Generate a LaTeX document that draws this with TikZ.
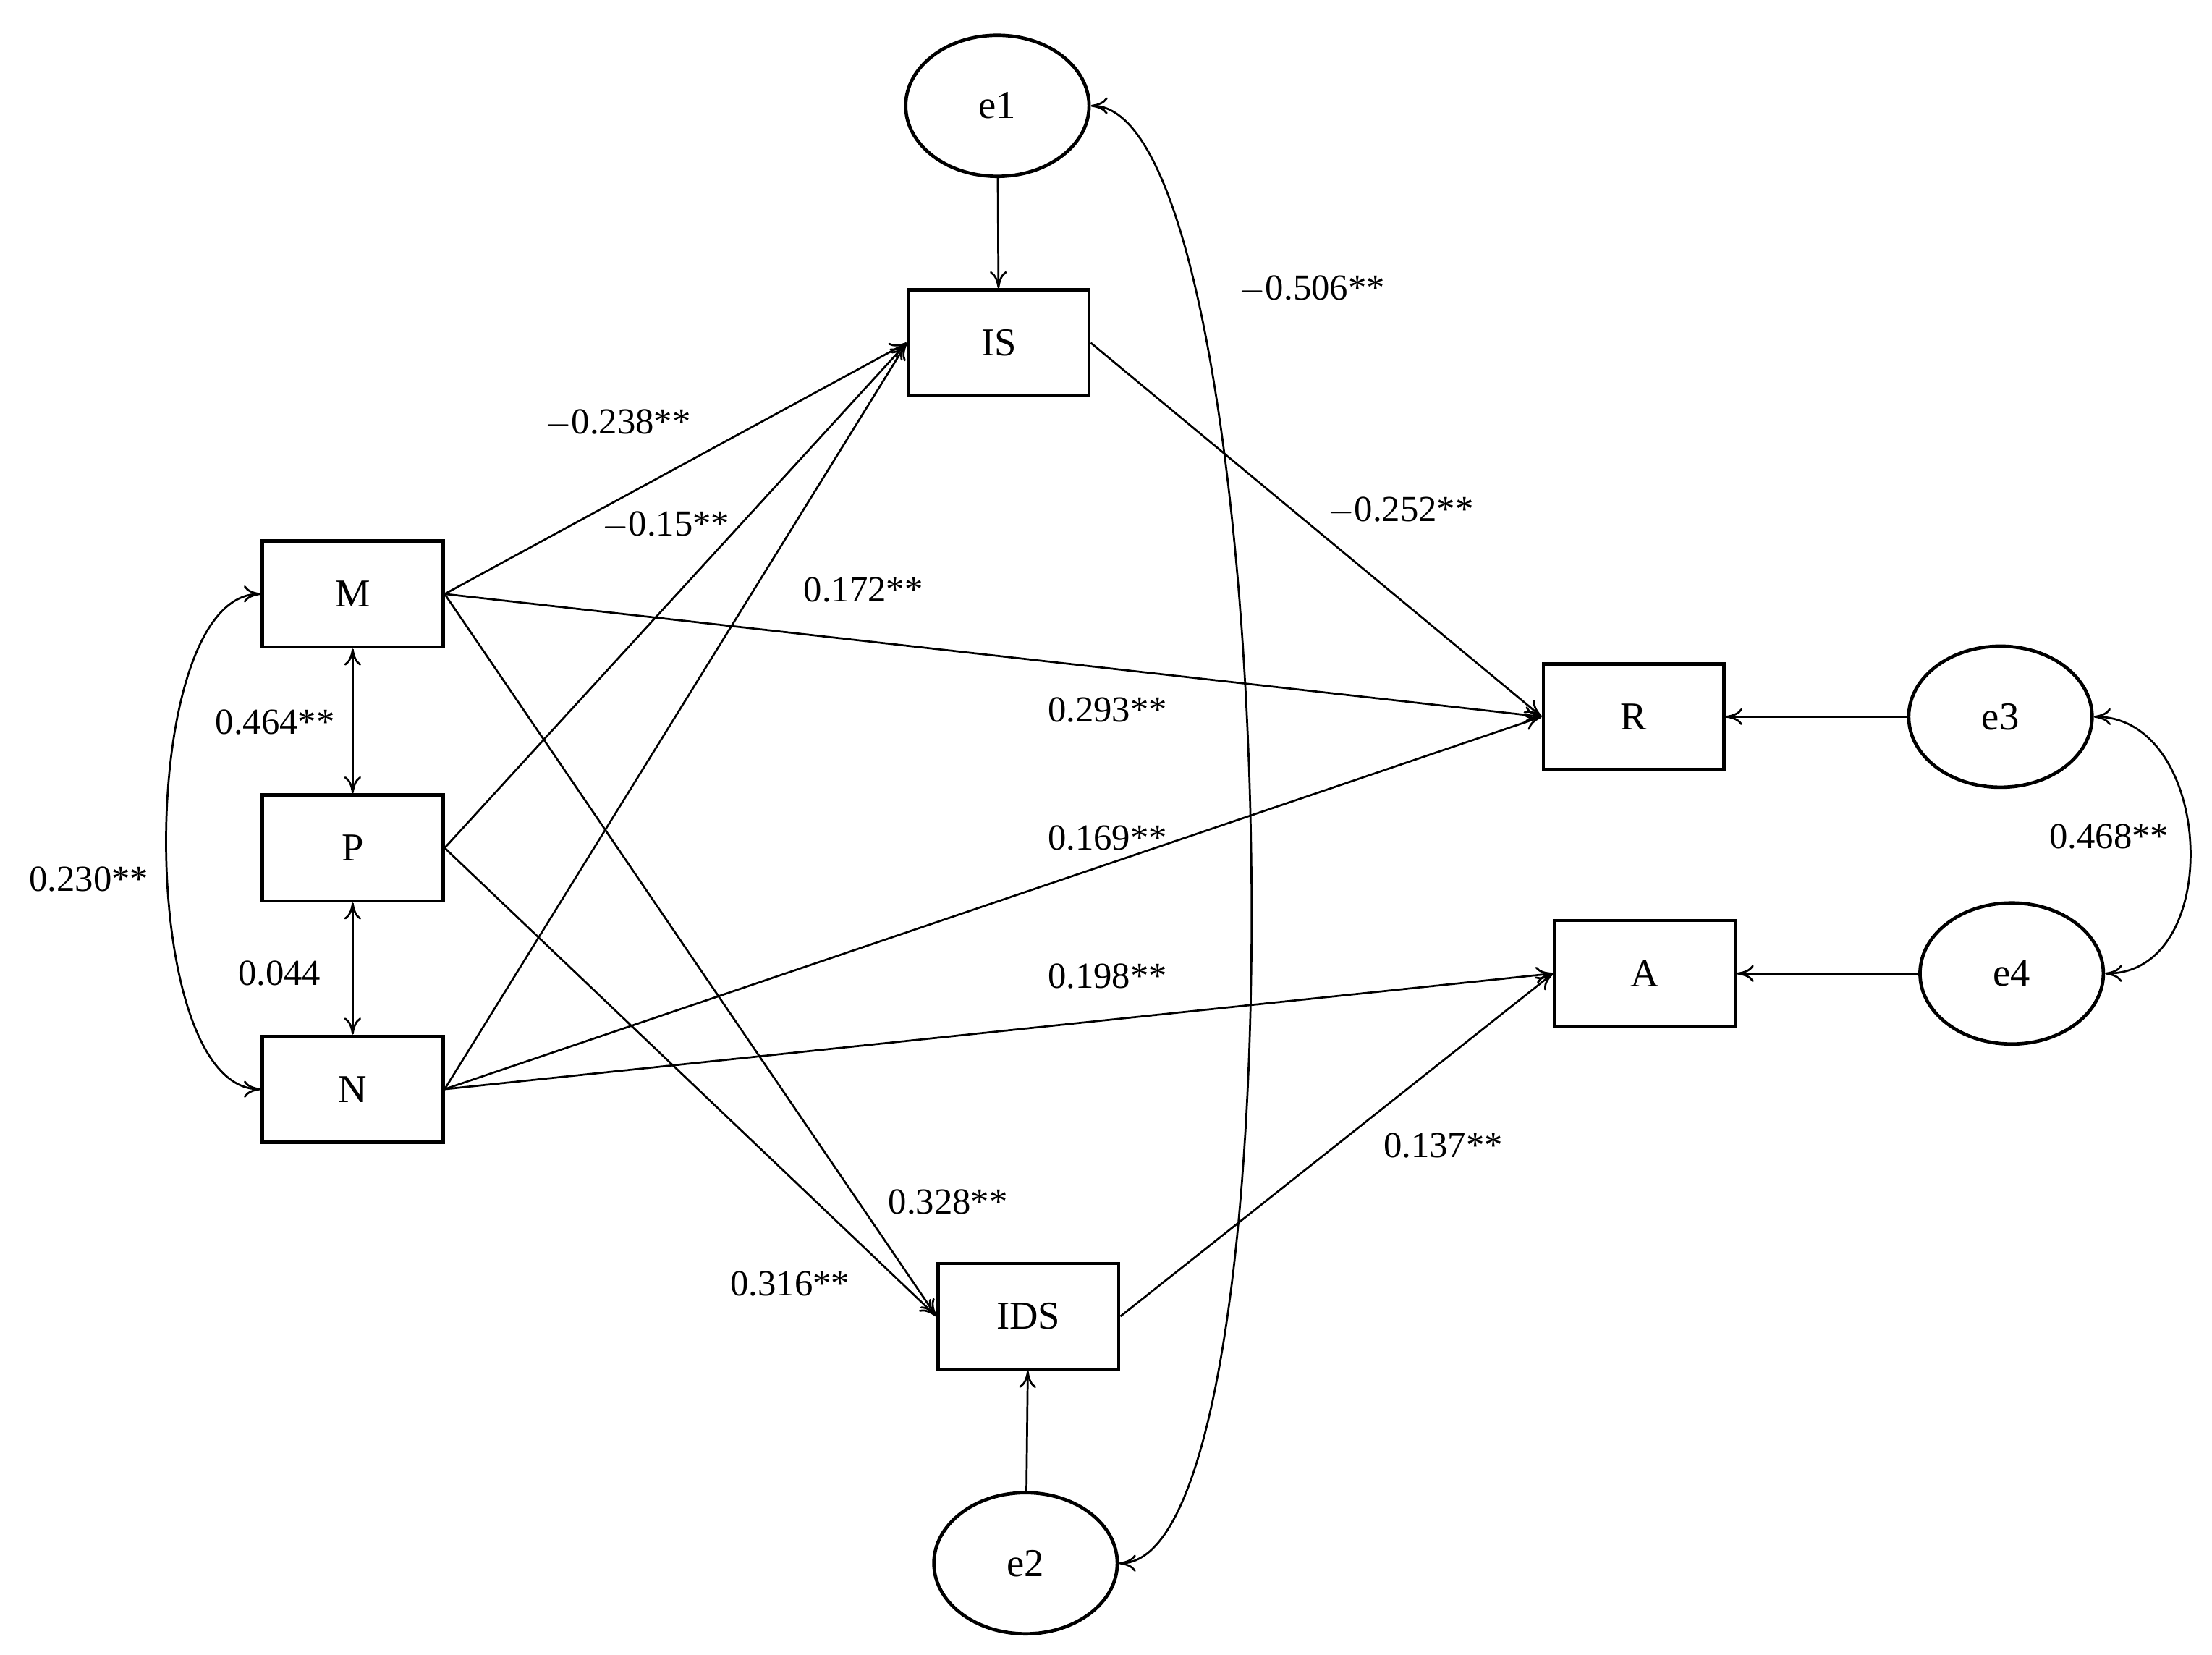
\documentclass[tikz,border=0pt]{standalone}
\usepackage{fontspec}
\setmainfont{Liberation Serif}
\usetikzlibrary{arrows.meta,shapes.geometric}
\begin{document}
\begin{tikzpicture}[x=0.5pt,y=-0.5pt,
box/.style={draw,line width=1.2pt,minimum width=64pt,minimum height=37.5pt,font=\fontsize{14}{16}\selectfont},
err/.style={draw,line width=1.2pt,ellipse,minimum width=65pt,minimum height=50pt,font=\fontsize{14}{16}\selectfont},
path/.style={line width=0.7pt,-{To[length=6pt,width=6pt]}},
both/.style={line width=0.7pt,{To[length=6pt,width=6pt]}-{To[length=6pt,width=6pt]}},
lab/.style={font=\fontsize{13}{15}\selectfont,inner sep=1pt}
]
\useasboundingbox (0,0) rectangle (1568,1173);
% observed variables
\node[box] (M) at (250,421) {M};
\node[box] (P) at (250,601) {P};
\node[box] (N) at (250,772) {N};
\node[box] (IS) at (708,243) {IS};
\node[box] (IDS) at (729,933) {IDS};
\node[box] (R) at (1158,508) {R};
\node[box] (A) at (1166,690) {A};
% errors
\node[err] (e1) at (707,75) {e1};
\node[err] (e2) at (727,1108) {e2};
\node[err] (e3) at (1418,508) {e3};
\node[err] (e4) at (1426,690) {e4};
% paths
\draw[path] (M.east) -- (IS.west);
\draw[path] (P.east) -- (IS.west);
\draw[path] (N.east) -- (IS.west);
\draw[path] (M.east) -- (R.west);
\draw[path] (N.east) -- (R.west);
\draw[path] (N.east) -- (A.west);
\draw[path] (M.east) -- (IDS.west);
\draw[path] (P.east) -- (IDS.west);
\draw[path] (IS.east) -- (R.west);
\draw[path] (IDS.east) -- (A.west);
\draw[path] (e1) -- (IS);
\draw[path] (e2) -- (IDS);
\draw[path] (e3) -- (R);
\draw[path] (e4) -- (A);
% covariances
\draw[both] (M) -- (P);
\draw[both] (P) -- (N);
\draw[both] (M.west) to[out=180,in=180,looseness=0.65] (N.west);
\draw[both] (e1.east) to[out=0,in=0,looseness=0.34] (e2.east);
\draw[both] (e3.east) to[out=0,in=0,looseness=1.2] (e4.east);
% labels
\node[lab] at (438,300) {$-$0.238**};
\node[lab] at (472,372) {$-$0.15**};
\node[lab] at (612,418) {0.172**};
\node[lab] at (993,362) {$-$0.252**};
\node[lab] at (785,503) {0.293**};
\node[lab] at (785,594) {0.169**};
\node[lab] at (785,692) {0.198**};
\node[lab] at (1023,812) {0.137**};
\node[lab] at (672,852) {0.328**};
\node[lab] at (560,910) {0.316**};
\node[lab] at (930,205) {$-$0.506**};
\node[lab] at (195,512) {0.464**};
\node[lab] at (198,690) {0.044};
\node[lab] at (63,623) {0.230**};
\node[lab] at (1495,593) {0.468**};
\end{tikzpicture}
\end{document}
